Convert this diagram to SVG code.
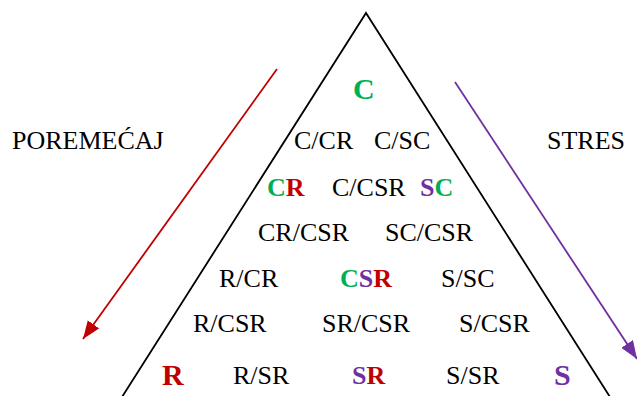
<svg xmlns="http://www.w3.org/2000/svg" width="637" height="396" viewBox="0 0 637 396">
<style>
text{font-family:'Liberation Serif','Times New Roman',Tinos,'DejaVu Serif',serif;font-size:26px;fill:#000}
.b{font-weight:bold}
.big{font-size:30px}
.g{fill:#00B050}.r{fill:#C00000}.p{fill:#7030A0}
</style>
<defs>
<marker id="ar" markerUnits="userSpaceOnUse" markerWidth="20" markerHeight="16" refX="18" refY="7" orient="auto"><path d="M0,0 L18,7 L0,14 Z" fill="#C00000"/></marker>
<marker id="ap" markerUnits="userSpaceOnUse" markerWidth="20" markerHeight="16" refX="18" refY="7" orient="auto"><path d="M0,0 L18,7 L0,14 Z" fill="#7030A0"/></marker>
</defs>
<rect width="637" height="396" fill="#fff"/>
<g id="triangle"><path d="M122,397 L366,13 L610,397" fill="none" stroke="#000" stroke-width="1.8"/></g>
<g id="connectors">
<line x1="277" y1="69" x2="83" y2="339" stroke="#C00000" stroke-width="1.8" marker-end="url(#ar)"/>
<line x1="455" y1="82" x2="637" y2="359" stroke="#7030A0" stroke-width="1.8" marker-end="url(#ap)"/>
</g>
<g id="labels">
<text x="12" y="149">POREMEĆAJ</text>
<text x="547" y="149">STRES</text>
</g>
<g id="n-C"><text class="b big g" x="353" y="99">C</text></g>
<g id="n-C-CR"><text x="294" y="149">C/CR</text></g>
<g id="n-C-SC"><text x="374" y="149">C/SC</text></g>
<g id="n-CR"><text class="b" x="267" y="196"><tspan class="g">C</tspan><tspan class="r">R</tspan></text></g>
<g id="n-C-CSR"><text x="332" y="196">C/CSR</text></g>
<g id="n-SC"><text class="b" x="420" y="196"><tspan class="p">S</tspan><tspan class="g">C</tspan></text></g>
<g id="n-CR-CSR"><text x="258" y="241">CR/CSR</text></g>
<g id="n-SC-CSR"><text x="385" y="241">SC/CSR</text></g>
<g id="n-R-CR"><text x="219" y="287">R/CR</text></g>
<g id="n-CSR"><text class="b" x="340" y="287"><tspan class="g">C</tspan><tspan class="p">S</tspan><tspan class="r">R</tspan></text></g>
<g id="n-S-SC"><text x="441" y="287">S/SC</text></g>
<g id="n-R-CSR"><text x="193" y="332">R/CSR</text></g>
<g id="n-SR-CSR"><text x="322" y="332">SR/CSR</text></g>
<g id="n-S-CSR"><text x="459" y="332">S/CSR</text></g>
<g id="n-R"><text class="b big r" x="162" y="385">R</text></g>
<g id="n-R-SR"><text x="233" y="384">R/SR</text></g>
<g id="n-SR"><text class="b" x="352" y="384"><tspan class="p">S</tspan><tspan class="r">R</tspan></text></g>
<g id="n-S-SR"><text x="446" y="384">S/SR</text></g>
<g id="n-S"><text class="b big p" x="554" y="385">S</text></g>
</svg>
